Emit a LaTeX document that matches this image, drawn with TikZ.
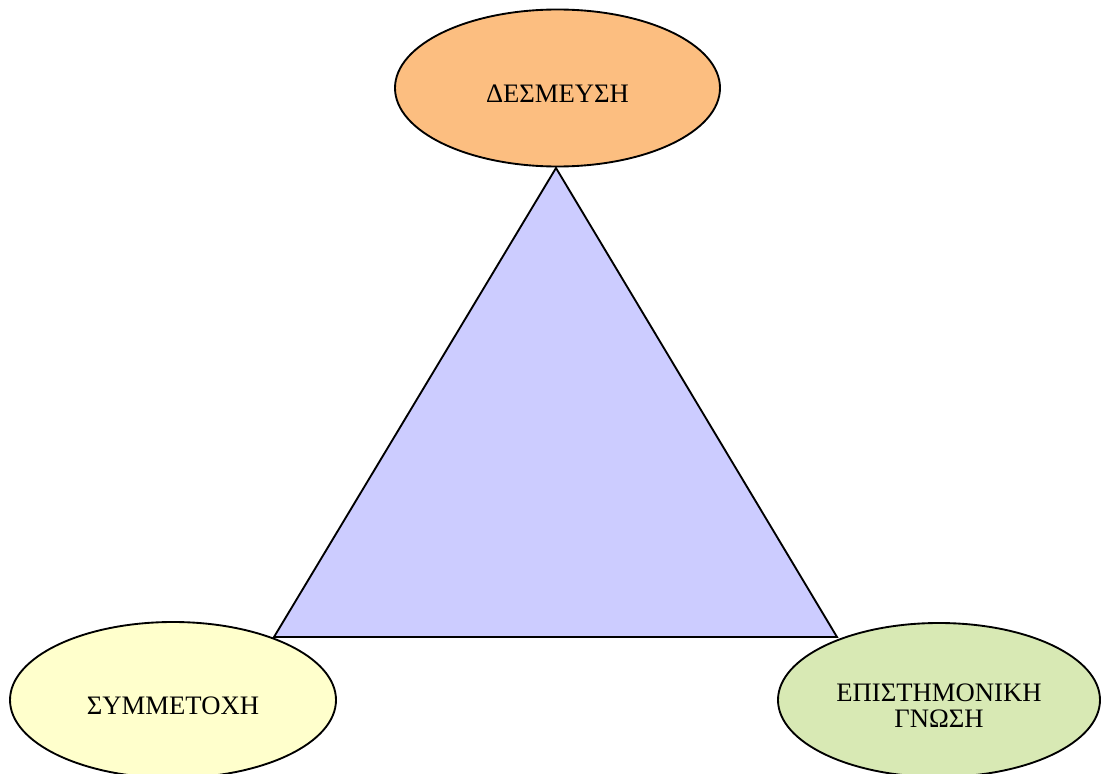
\documentclass[tikz,border=0pt]{standalone}
\usepackage{fontspec}
\setmainfont{Liberation Serif}
\usetikzlibrary{shapes.geometric}

\tikzset{
  goal/.style={draw, line width=1.4pt, ellipse, inner sep=0pt},
  goaltext/.style={font=\fontsize{20}{19.5}\selectfont, align=center, yshift=-5.5*0.75pt},
}

\begin{document}
\begin{tikzpicture}[x=0.75pt, y=-0.75pt]
      % Page frame
      \useasboundingbox (0,0) rectangle (1101,774);
      \fill[white] (0,0) rectangle (1101,774);

      % Corner points of the triangle
      \coordinate (apex) at (556,168);
      \coordinate (leftcorner) at (274,637);
      \coordinate (rightcorner) at (837,637);

      % Triangle
      \draw[line width=1.4pt, fill={rgb,255:red,204;green,204;blue,255}, line join=miter]
        (apex) -- (leftcorner) -- (rightcorner) -- cycle;

      % Ellipses
      \node[goal, minimum width=325*0.75pt, minimum height=157*0.75pt,
            fill={rgb,255:red,252;green,190;blue,128}] (desmeusi) at (557.5,88) {};
      \node[goal, minimum width=326*0.75pt, minimum height=156*0.75pt,
            fill={rgb,255:red,255;green,255;blue,204}] (symmetoxi) at (173,700) {};
      \node[goal, minimum width=322*0.75pt, minimum height=154*0.75pt,
            fill={rgb,255:red,216;green,233;blue,180}] (gnosi) at (939,700) {};

      % Labels
      \node[goaltext] (desmeusitext) at (desmeusi) {ΔΕΣΜΕΥΣΗ};
      \node[goaltext] (symmetoxitext) at (symmetoxi) {ΣΥΜΜΕΤΟΧΗ};
      \node[goaltext] (gnositext) at (gnosi) {ΕΠΙΣΤΗΜΟΝΙΚΗ\\ΓΝΩΣΗ};
\end{tikzpicture}
\end{document}
